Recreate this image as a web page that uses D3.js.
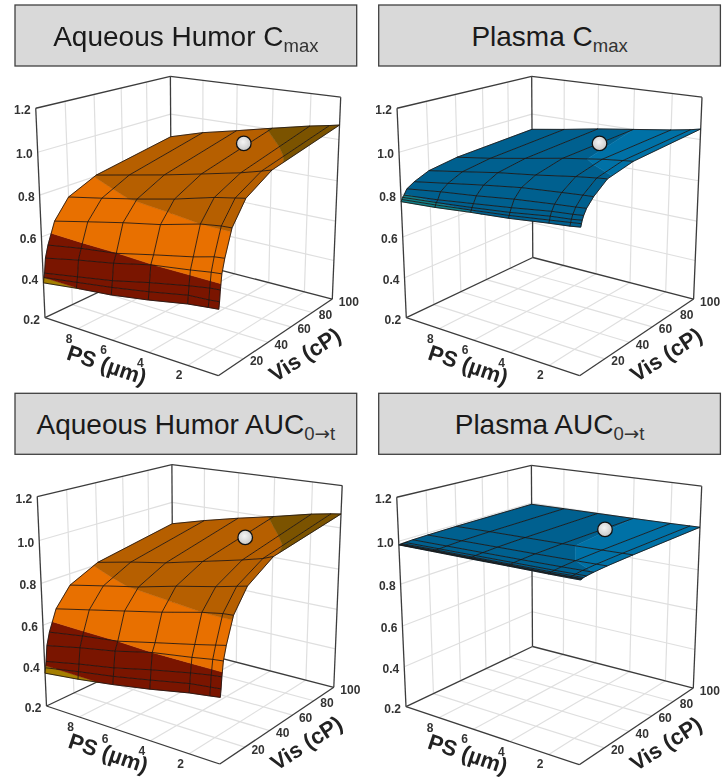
<!DOCTYPE html>
<html>
<head>
<meta charset="utf-8">
<script src="https://cdn.jsdelivr.net/npm/d3@7"></script>
<style>
  html, body { margin: 0; padding: 0; background: #fff; }
  svg { display: block; filter: blur(0.35px); }
  text { font-family: "Liberation Sans", Arial, sans-serif; }
</style>
</head>
<body>
<svg id="chart" width="725" height="779"></svg>
<script>
const psNodes = [10, 8, 6, 4, 2, 1, 0.5];
const visNodes = [1, 1.5, 2, 3, 5, 10, 20, 40, 100];
const psTicks = [8, 6, 4, 2];
const visTicks = [20, 40, 60, 80, 100];
const zTicks = [0.2, 0.4, 0.6, 0.8, 1.0, 1.2];

// rows follow visNodes, columns follow psNodes
const aqueousCmax = [
  [0.375, 0.398, 0.416, 0.444, 0.478, 0.489, 0.494],
  [0.400, 0.425, 0.450, 0.480, 0.515, 0.520, 0.525],
  [0.420, 0.450, 0.480, 0.520, 0.555, 0.570, 0.574],
  [0.491, 0.527, 0.558, 0.597, 0.621, 0.635, 0.640],
  [0.549, 0.577, 0.598, 0.636, 0.672, 0.695, 0.700],
  [0.652, 0.689, 0.725, 0.757, 0.800, 0.812, 0.814],
  [0.744, 0.775, 0.808, 0.845, 0.889, 0.905, 0.913],
  [0.805, 0.839, 0.873, 0.911, 0.950, 0.974, 0.987],
  [0.878, 0.928, 0.966, 1.006, 1.044, 1.060, 1.069],
];
const plasmaCmax = [
  [0.769, 0.780, 0.796, 0.809, 0.828, 0.836, 0.842],
  [0.778, 0.790, 0.805, 0.820, 0.840, 0.850, 0.855],
  [0.787, 0.800, 0.815, 0.832, 0.855, 0.862, 0.868],
  [0.795, 0.810, 0.830, 0.850, 0.873, 0.880, 0.885],
  [0.820, 0.842, 0.860, 0.882, 0.898, 0.905, 0.909],
  [0.842, 0.869, 0.896, 0.920, 0.935, 0.942, 0.945],
  [0.872, 0.900, 0.929, 0.952, 0.979, 0.990, 0.995],
  [0.894, 0.920, 0.951, 0.983, 1.010, 1.020, 1.025],
  [0.918, 0.945, 0.975, 1.000, 1.025, 1.040, 1.050],
];
const aqueousAuc = [
  [0.365, 0.385, 0.410, 0.440, 0.475, 0.488, 0.495],
  [0.390, 0.420, 0.447, 0.480, 0.515, 0.525, 0.530],
  [0.420, 0.455, 0.485, 0.525, 0.560, 0.575, 0.580],
  [0.495, 0.530, 0.560, 0.600, 0.625, 0.640, 0.645],
  [0.555, 0.580, 0.600, 0.638, 0.675, 0.695, 0.705],
  [0.655, 0.690, 0.725, 0.760, 0.800, 0.815, 0.818],
  [0.745, 0.778, 0.810, 0.850, 0.885, 0.905, 0.915],
  [0.810, 0.845, 0.875, 0.915, 0.955, 0.978, 0.995],
  [0.885, 0.930, 0.970, 1.006, 1.045, 1.060, 1.066],
];
const plasmaAuc = [
  [0.983, 0.984, 0.985, 0.987, 0.988, 0.989, 0.990],
  [0.983, 0.985, 0.986, 0.988, 0.989, 0.991, 0.992],
  [0.984, 0.986, 0.987, 0.989, 0.990, 0.992, 0.993],
  [0.985, 0.987, 0.988, 0.990, 0.992, 0.994, 0.995],
  [0.986, 0.988, 0.990, 0.992, 0.994, 0.996, 0.997],
  [0.988, 0.990, 0.992, 0.994, 0.997, 0.999, 1.000],
  [0.990, 0.993, 0.995, 0.997, 1.000, 1.002, 1.003],
  [0.992, 0.995, 0.997, 0.999, 1.002, 1.004, 1.005],
  [0.9935, 0.996, 0.998, 1.000, 1.003, 1.005, 1.006],
];

const titleMain = ['Aqueous Humor C', 'Plasma C', 'Aqueous Humor AUC', 'Plasma AUC'];
const titleSub = ['max', 'max', '0\u2192t', '0\u2192t'];
const panelValues = [aqueousCmax, plasmaCmax, aqueousAuc, plasmaAuc];
const refPS = [3.6, 3.8, 3.6, 3.9];
const refVis = [68, 66.5, 68, 73];
const refValue = [1.0, 1.0, 0.973, 1.0];

const bandBreaks = [-Infinity, 0.4, 0.6, 0.8, 1.0, Infinity];
const orangeBands = ['#a57f00', '#7a1500', '#e87000', '#b65f00', '#7b5300'];
const blueBands = ['#0f7f88', '#0f7f88', '#0f7f88', '#00608f', '#0071a6'];
const panelBands = [orangeBands, blueBands, orangeBands, blueBands];

// layout of the four panels
const panelX = [0, 361.3, 1.5, 361];
const panelY = [0, 0, 388.3, 389];
const boxX = [15, 378.7, 15, 378.7];
const boxY = [5, 5, 393.3, 393.3];
const boxW = 341.7;
const boxH = 61;

const aScale = d3.scaleLinear().domain([10, 0.5]).range([0, 1]);
const bScale = d3.scaleLinear().domain([100, 1]).range([0, 1]);
const cScale = d3.scaleLinear().domain([0.2, 1.2]).range([0, 1]);

// perspective camera fitted to the corners of the box: a along PS, b along Vis, c up
const camera = [
  [125.16, -132.92, -9.746, 171.5],
  [9.438, 14.889, -185.06, 257.5],
  [-0.10725, -0.14262, -0.05063, 1],
];

function project(a, b, c) {
  const w = camera[2][0] * a + camera[2][1] * b + camera[2][2] * c + camera[2][3];
  return [
    (camera[0][0] * a + camera[0][1] * b + camera[0][2] * c + camera[0][3]) / w,
    (camera[1][0] * a + camera[1][1] * b + camera[1][2] * c + camera[1][3]) / w,
  ];
}

const toPixel = (ps, vis, z) => project(aScale(ps), bScale(vis), cScale(z));
const pathLine = d3.line();

// keeps the part of a polygon whose z lies on the wanted side of a level
function clipSide(poly, level, keepAbove) {
  const inside = p => (keepAbove ? p.z >= level : p.z <= level);
  const out = [];
  poly.forEach((p, i) => {
    const q = poly[(i + 1) % poly.length];
    if (inside(p)) out.push(p);
    if (inside(p) !== inside(q)) {
      const t = (level - p.z) / (q.z - p.z);
      out.push({ ps: p.ps + t * (q.ps - p.ps), vis: p.vis + t * (q.vis - p.vis), z: level });
    }
  });
  return out;
}

function drawWalls(g) {
  const grid = g.append('g').attr('fill', 'none').attr('stroke', '#dfdfdf').attr('stroke-width', 1.2);
  const seg = (p, q) => grid.append('path').attr('d', pathLine([project(...p), project(...q)]));

  psTicks.forEach((ps) => {
    const a = aScale(ps);
    seg([a, 0, 0], [a, 0, 1]);
    seg([a, 0, 0], [a, 1, 0]);
  });
  visTicks.slice(0, -1).forEach((vis) => {
    const b = bScale(vis);
    seg([0, b, 0], [0, b, 1]);
    seg([0, b, 0], [1, b, 0]);
  });
  zTicks.slice(1, -1).forEach((z) => {
    const c = cScale(z);
    seg([0, 1, c], [0, 0, c]);
    seg([0, 0, c], [1, 0, c]);
  });

  const frame = g.append('g').attr('fill', 'none').attr('stroke', '#3c3c3c').attr('stroke-width', 1.3);
  const edges = [
    [[0, 1, 0], [0, 0, 0]], [[0, 0, 0], [1, 0, 0]], [[0, 1, 0], [1, 1, 0]], [[1, 1, 0], [1, 0, 0]],
    [[0, 1, 0], [0, 1, 1]], [[0, 1, 1], [0, 0, 1]], [[0, 0, 1], [1, 0, 1]], [[1, 0, 1], [1, 0, 0]],
    [[0, 0, 0], [0, 0, 1]],
  ];
  edges.forEach(([p, q]) => frame.append('path').attr('d', pathLine([project(...p), project(...q)])));
}

function drawSurface(g, values, colors) {
  const cells = g.append('g');
  for (let row = visNodes.length - 2; row >= 0; row -= 1) {
    for (let col = 0; col < psNodes.length - 1; col += 1) {
      const quad = [
        { ps: psNodes[col], vis: visNodes[row], z: values[row][col] },
        { ps: psNodes[col + 1], vis: visNodes[row], z: values[row][col + 1] },
        { ps: psNodes[col + 1], vis: visNodes[row + 1], z: values[row + 1][col + 1] },
        { ps: psNodes[col], vis: visNodes[row + 1], z: values[row + 1][col] },
      ];
      colors.forEach((color, i) => {
        const part = clipSide(clipSide(quad, bandBreaks[i], true), bandBreaks[i + 1], false);
        if (part.length < 3) return;
        cells.append('path')
          .attr('d', `${pathLine(part.map(p => toPixel(p.ps, p.vis, p.z)))}Z`)
          .attr('fill', color)
          .attr('stroke', color)
          .attr('stroke-width', 0.5);
      });
    }
  }

  const mesh = g.append('g').attr('fill', 'none').attr('stroke', '#1c1410').attr('stroke-width', 0.85);
  visNodes.forEach((vis, row) => {
    mesh.append('path').attr('d', pathLine(psNodes.map((ps, col) => toPixel(ps, vis, values[row][col]))));
  });
  psNodes.forEach((ps, col) => {
    mesh.append('path').attr('d', pathLine(visNodes.map((vis, row) => toPixel(ps, vis, values[row][col]))));
  });
}

function drawLabels(g) {
  const labels = g.append('g').attr('font-size', 12).attr('font-weight', 'bold').attr('fill', '#333');

  zTicks.forEach((z) => {
    const [x, y] = project(0, 1, cScale(z));
    labels.append('text').attr('x', x - 5).attr('y', y + 6).attr('text-anchor', 'end').text(z.toFixed(1));
  });
  psTicks.forEach((ps) => {
    const [x, y] = project(aScale(ps), 1, 0);
    labels.append('text').attr('x', x - 8.7).attr('y', y + 14).attr('text-anchor', 'middle').text(ps);
  });
  visTicks.forEach((vis) => {
    const [x, y] = project(1, bScale(vis), 0);
    labels.append('text').attr('x', x + 6.5).attr('y', y + 6.5).text(vis);
  });

  const titles = g.append('g').attr('font-size', 22).attr('font-weight', 'bold').attr('fill', '#222').attr('text-anchor', 'middle');
  titles.append('text').attr('transform', 'translate(104.5,372) rotate(18.5)').text('PS (\u00b5m)');
  titles.append('text').attr('transform', 'translate(309,361) rotate(-33)').text('Vis (cP)');
}

function drawMarker(g, i) {
  const [x, y] = toPixel(refPS[i], refVis[i], refValue[i]);
  g.append('circle')
    .attr('cx', x).attr('cy', y).attr('r', 7.3)
    .attr('fill', 'url(#markerFill)')
    .attr('stroke', '#111')
    .attr('stroke-width', 1.3);
}

function drawTitle(svg, i) {
  svg.append('rect')
    .attr('x', boxX[i]).attr('y', boxY[i]).attr('width', boxW).attr('height', boxH)
    .attr('fill', '#d9d9d9').attr('stroke', '#404040').attr('stroke-width', 1.3);
  const text = svg.append('text')
    .attr('x', boxX[i] + boxW / 2)
    .attr('y', boxY[i] + 40.5)
    .attr('text-anchor', 'middle')
    .attr('font-size', 28)
    .attr('fill', '#1a1a1a');
  text.append('tspan').text(titleMain[i]);
  const sub = text.append('tspan').attr('dy', 6).attr('font-size', 18.5).attr('fill', '#333');
  Array.from(titleSub[i]).forEach((ch) => {
    // the arrow glyph is too faint in Liberation Sans
    sub.append('tspan').style('font-family', ch === '\u2192' ? '"DejaVu Sans"' : null).text(ch);
  });
}

const svg = d3.select('#chart');
const gradient = svg.append('defs').append('radialGradient').attr('id', 'markerFill')
  .attr('cx', '45%').attr('cy', '40%').attr('r', '65%');
gradient.append('stop').attr('offset', '0%').attr('stop-color', '#f4f4f4');
gradient.append('stop').attr('offset', '100%').attr('stop-color', '#c4c4c4');

titleMain.forEach((_, i) => {
  drawTitle(svg, i);
  const g = svg.append('g').attr('transform', `translate(${panelX[i]},${panelY[i]})`);
  drawWalls(g);
  drawSurface(g, panelValues[i], panelBands[i]);
  drawLabels(g);
  drawMarker(g, i);
});
</script>
</body>
</html>
